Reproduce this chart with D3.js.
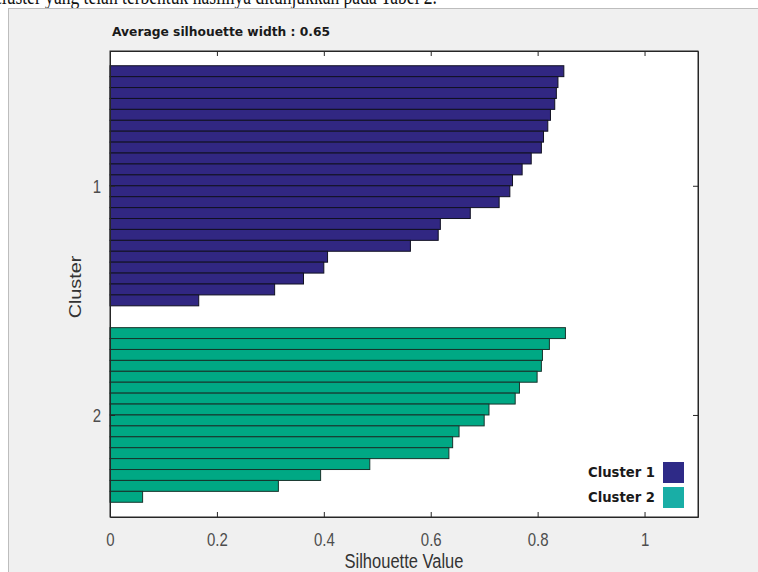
<!DOCTYPE html>
<html>
<head>
<meta charset="utf-8">
<script src="https://cdn.jsdelivr.net/npm/d3@7"></script>
<style>
body { margin: 0; background: #fff; overflow: hidden; }
</style>
</head>
<body>
<script>
// silhouette values, sorted
var cluster1 = [0.849, 0.838, 0.835, 0.832, 0.824, 0.819, 0.811, 0.807, 0.788, 0.771, 0.753,
                0.748, 0.728, 0.674, 0.618, 0.614, 0.562, 0.407, 0.400, 0.362, 0.308, 0.166];
var cluster2 = [0.852, 0.822, 0.809, 0.807, 0.799, 0.766, 0.758, 0.709, 0.700, 0.653, 0.641,
                0.634, 0.486, 0.394, 0.315, 0.061];
var clusterLabels = ['1', '2'];
var xTicks = [0, 0.2, 0.4, 0.6, 0.8, 1];
var legendLabels = ['Cluster 1', 'Cluster 2'];
var avgWidth = 0.65;

var barColors = ['#312782', '#00a884'];
var legendColors = ['#2e2a87', '#19aea6'];

var W = 758, H = 572;
var pLeft = 110, pRight = 698, pTop = 51, pBottom = 517;
var gapRows = 2;

// one row per bar, a gap of two rows between clusters
var rows = [];
var clusterMid = [];
var pos = 0;
[cluster1, cluster2].forEach(function(vals, ci) {
    var start = pos;
    vals.forEach(function(v) {
        rows.push({pos: pos, value: v, cluster: ci});
        pos++;
    });
    clusterMid.push((start + pos) / 2);
    pos += gapRows;
});
var lastRow = pos - gapRows;

var svg = d3.select('body').append('svg')
    .attr('width', W)
    .attr('height', H)
    .style('display', 'block');

// the cut-off line of document text above the figure
svg.append('text')
    .attr('x', -6)
    .attr('y', 4)
    .attr('textLength', 443)
    .attr('lengthAdjust', 'spacingAndGlyphs')
    .style('font-family', '"Liberation Serif", serif')
    .style('font-size', '24px')
    .attr('fill', '#111')
    .text('cluster  yang  telah  terbentuk  hasilnya  ditunjukkan pada Tabel 2.');

// figure window
svg.append('rect')
    .attr('x', 8.5).attr('y', 8.5)
    .attr('width', W).attr('height', H)
    .attr('fill', '#f0f0f0')
    .attr('stroke', '#bdbdbd');

var x = d3.scaleLinear().domain([0, 1.1]).range([pLeft, pRight]);
var y = d3.scaleLinear().domain([-1.35, lastRow + 1.35]).range([pTop, pBottom]);

// plot area
svg.append('rect')
    .attr('x', pLeft).attr('y', pTop)
    .attr('width', pRight - pLeft).attr('height', pBottom - pTop)
    .attr('fill', '#fff');

// bars
svg.append('g').selectAll('rect')
    .data(rows)
    .enter().append('rect')
    .attr('x', x(0))
    .attr('y', function(d) { return y(d.pos); })
    .attr('width', function(d) { return x(d.value) - x(0); })
    .attr('height', function(d) { return y(d.pos + 1) - y(d.pos); })
    .attr('fill', function(d) { return barColors[d.cluster]; })
    .attr('stroke', function(d) { return d.cluster == 0 ? '#111122' : '#17332b'; })
    .attr('stroke-width', 1);

// axes
var fmt = d3.format('~g');
var xAxis = svg.append('g')
    .attr('transform', 'translate(0,' + pBottom + ')')
    .call(d3.axisBottom(x).tickValues(xTicks).tickFormat(fmt).tickSize(-5).tickSizeOuter(0));
var xTop = svg.append('g')
    .attr('transform', 'translate(0,' + pTop + ')')
    .call(d3.axisTop(x).tickValues(xTicks).tickFormat('').tickSize(-5).tickSizeOuter(0));

var yAxis = svg.append('g')
    .attr('transform', 'translate(' + pLeft + ',0)')
    .call(d3.axisLeft(y).tickValues(clusterMid)
        .tickFormat(function(d, i) { return clusterLabels[i]; })
        .tickSize(-5).tickSizeOuter(0));
var yRight = svg.append('g')
    .attr('transform', 'translate(' + pRight + ',0)')
    .call(d3.axisRight(y).tickValues(clusterMid).tickFormat('').tickSize(-5).tickSizeOuter(0));

[xAxis, xTop, yAxis, yRight].forEach(function(g) {
    g.select('.domain').attr('stroke', '#262626');
    g.selectAll('.tick line').attr('stroke', '#262626');
});

// tick labels: the picture is stretched a bit in height
xAxis.selectAll('.tick text')
    .attr('y', 0).attr('dy', null)
    .attr('transform', 'translate(0,29) scale(1,1.2)')
    .style('font-family', '"Liberation Sans", Arial, sans-serif')
    .style('font-size', '15px')
    .attr('fill', '#4d4d4d');
yAxis.selectAll('.tick text')
    .attr('x', 0).attr('dy', null)
    .attr('transform', 'translate(-9,7) scale(1,1.2)')
    .style('font-family', '"Liberation Sans", Arial, sans-serif')
    .style('font-size', '15px')
    .attr('fill', '#4d4d4d');

// box
svg.append('rect')
    .attr('x', pLeft).attr('y', pTop)
    .attr('width', pRight - pLeft).attr('height', pBottom - pTop)
    .attr('fill', 'none')
    .attr('stroke', '#262626');

// axis titles
svg.append('text')
    .attr('text-anchor', 'middle')
    .attr('transform', 'translate(' + ((pLeft + pRight) / 2) + ',568) scale(1,1.2)')
    .style('font-family', '"Liberation Sans", Arial, sans-serif')
    .style('font-size', '16.5px')
    .attr('fill', '#333')
    .text('Silhouette Value');

svg.append('text')
    .attr('text-anchor', 'middle')
    .attr('transform', 'translate(81,' + ((pTop + pBottom) / 2 + 3) + ') scale(1,1.2) rotate(-90)')
    .style('font-family', '"Liberation Sans", Arial, sans-serif')
    .style('font-size', '16.5px')
    .attr('fill', '#333')
    .text('Cluster');

// title
svg.append('text')
    .attr('x', 112)
    .attr('y', 36)
    .attr('textLength', 218)
    .attr('lengthAdjust', 'spacingAndGlyphs')
    .style('font-family', '"DejaVu Sans", sans-serif')
    .style('font-size', '11.5px')
    .style('font-weight', '600')
    .attr('fill', '#1a1a1a')
    .text('Average silhouette width : ' + avgWidth);

// legend
var legend = svg.append('g').selectAll('g')
    .data(legendLabels)
    .enter().append('g')
    .attr('transform', function(d, i) { return 'translate(0,' + (462 + i * 25) + ')'; });
legend.append('rect')
    .attr('x', 663).attr('y', 0)
    .attr('width', 21).attr('height', 21)
    .attr('fill', function(d, i) { return legendColors[i]; });
legend.append('text')
    .attr('x', 655).attr('y', 15)
    .attr('text-anchor', 'end')
    .attr('textLength', 67)
    .attr('lengthAdjust', 'spacingAndGlyphs')
    .style('font-family', '"DejaVu Sans", sans-serif')
    .style('font-size', '14px')
    .style('font-weight', 'bold')
    .attr('fill', '#1a1a1a')
    .text(function(d) { return d; });
</script>
</body>
</html>
